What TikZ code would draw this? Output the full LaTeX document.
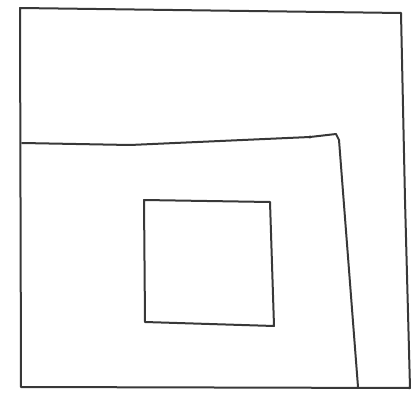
\documentclass[tikz,border=0pt]{standalone}
\begin{document}
\begin{tikzpicture}[x=1pt,y=-1pt,
  pen/.style={draw=black!78,line width=2pt,line join=round,line cap=round}]
\useasboundingbox (0,0) rectangle (412,393);
% outer square
\draw[pen] (20,8) -- (401,13) -- (405,200) -- (410,388) -- (21,387) -- cycle;
% L-shaped line
\coordinate (la) at (22,143);
\coordinate (lb) at (130,145);
\coordinate (lc) at (310,137);
\coordinate (ld) at (336,134);
\coordinate (le) at (339,140);
\coordinate (lf) at (358,387);
\draw[pen] (la) -- (lb) -- (lc) -- (ld) -- (le) -- (lf);
\fill[black!80] (lc) circle (1.6);
% inner square
\draw[pen] (144,200) -- (270,202) -- (274,326) -- (145,322) -- cycle;
\end{tikzpicture}
\end{document}
